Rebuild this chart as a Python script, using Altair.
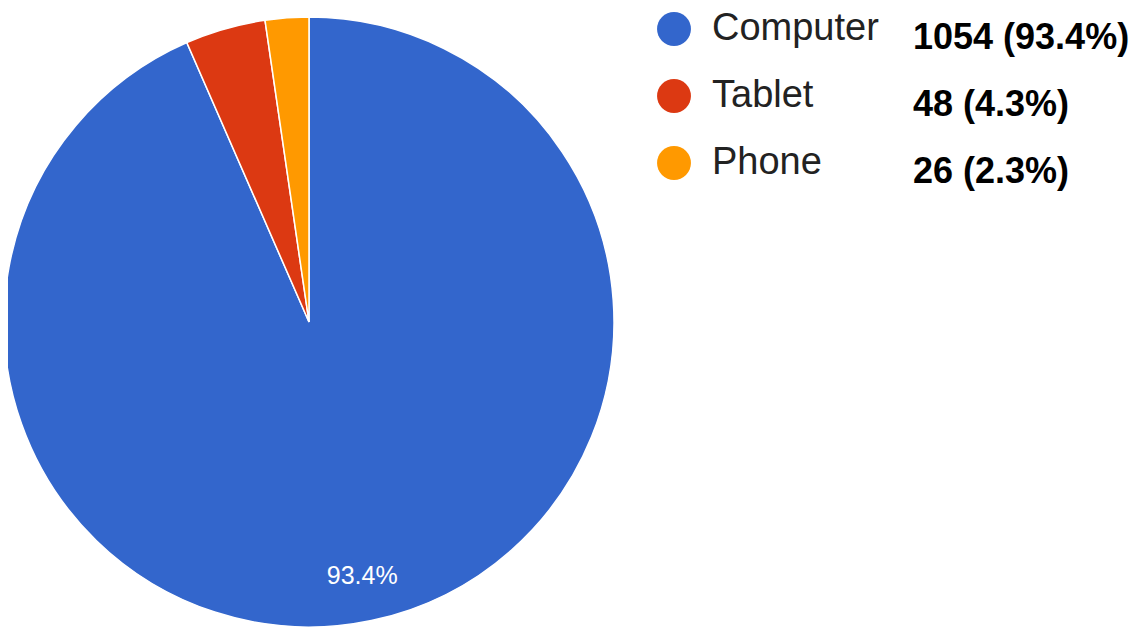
import altair as alt
import pandas as pd

categories = ["Computer", "Tablet", "Phone"]
counts = [1054, 48, 26]
value_labels = ["1054 (93.4%)", "48 (4.3%)", "26 (2.3%)"]
slice_labels = ["93.4%", "", ""]
colors = ["#3366CC", "#DC3912", "#FF9900"]
order_idx = [0, 1, 2]

df = pd.DataFrame({
    "category": categories,
    "count": counts,
    "value_label": value_labels,
    "slice_label": slice_labels,
    "order": order_idx,
})

color = alt.Color("category:N", scale=alt.Scale(domain=categories, range=colors), legend=None)
theta = alt.Theta("count:Q", stack=True)
order = alt.Order("order:Q")

CX, CY = 301, 314

pie = alt.Chart(df).mark_arc(radius=305, stroke="white", strokeWidth=1.5).encode(
    theta=theta, color=color, order=order,
    x=alt.value(CX), y=alt.value(CY),
)

pie_text = alt.Chart(df).mark_text(
    radius=260, color="white", fontSize=25, font="Liberation Sans",
    align="center", baseline="middle",
).encode(
    theta=theta, order=order, detail="category:N", text="slice_label:N",
    x=alt.value(CX), y=alt.value(CY),
)

ly = alt.Y("category:N", scale=alt.Scale(type="point", domain=categories, range=[21, 155], padding=0), axis=None)

leg_dots = alt.Chart(df).mark_point(filled=True, shape="circle", size=1150, opacity=1).encode(
    y=ly, color=color, x=alt.value(666),
)

leg_labels = alt.Chart(df).mark_text(
    align="left", baseline="middle", fontSize=38, font="Liberation Sans", color="#222222",
).encode(y=ly, text="category:N", x=alt.value(704))

leg_values = alt.Chart(df).mark_text(
    align="left", baseline="middle", fontSize=36, fontWeight="bold", font="Liberation Sans",
    color="#000000", dy=9,
).encode(y=ly, text="value_label:N", x=alt.value(905))

chart = alt.layer(pie, pie_text, leg_dots, leg_labels, leg_values).properties(
    width=1126, height=620, padding=0,
    autosize=alt.AutoSizeParams(type="none"),
).configure_view(stroke=None)

chart.save("out.html", embed_options={"renderer": "svg", "actions": False})
